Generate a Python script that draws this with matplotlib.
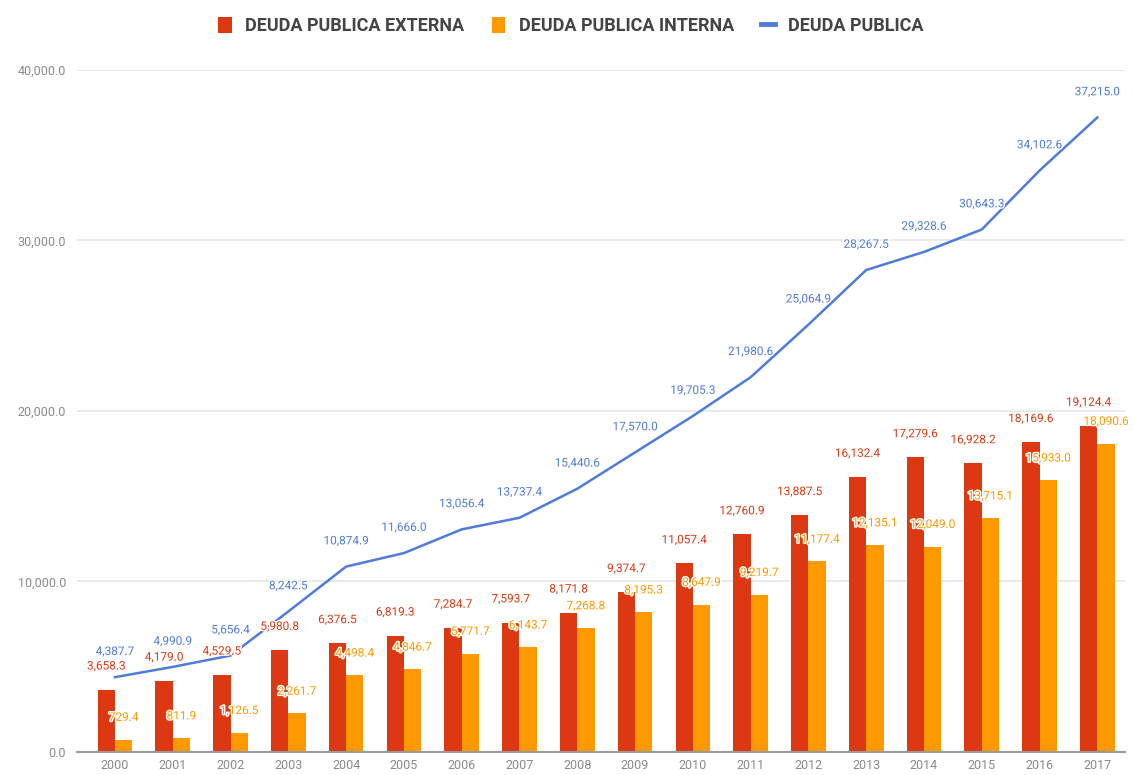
import numpy as np
import matplotlib.pyplot as plt
import matplotlib.patheffects as pe
from matplotlib.lines import Line2D
from matplotlib.ticker import FuncFormatter

years = [str(y) for y in range(2000, 2018)]

externa = [3658.3, 4179.0, 4529.5, 5980.8, 6376.5, 6819.3, 7284.7, 7593.7, 8171.8,
           9374.7, 11057.4, 12760.9, 13887.5, 16132.4, 17279.6, 16928.2, 18169.6, 19124.4]
interna = [729.4, 811.9, 1126.5, 2261.7, 4498.4, 4846.7, 5771.7, 6143.7, 7268.8,
           8195.3, 8647.9, 9219.7, 11177.4, 12135.1, 12049.0, 13715.1, 15933.0, 18090.6]
total = [4387.7, 4990.9, 5656.4, 8242.5, 10874.9, 11666.0, 13056.4, 13737.4, 15440.6,
         17570.0, 19705.3, 21980.6, 25064.9, 28267.5, 29328.6, 30643.3, 34102.6, 37215.0]

c_ext = '#dc3912'
c_int = '#ff9900'
c_tot = '#4f7bd9'

plt.rcParams['font.family'] = ['Roboto', 'DejaVu Sans']

fig = plt.figure(figsize=(11.33, 7.75), dpi=100)
ax = fig.add_axes([0.068, 0.0297, 0.925, 0.88])

x = np.arange(len(years))
w = 0.30
halo = [pe.withStroke(linewidth=2, foreground='white')]

b1 = ax.bar(x - w/2, externa, w, color=c_ext, zorder=2)
b2 = ax.bar(x + w/2, interna, w, color=c_int, zorder=2)
ax.plot(x, total, color=c_tot, lw=1.8, zorder=3)

for i in range(len(years)):
    ax.annotate(f'{externa[i]:,.1f}', (x[i] - w/2, externa[i]), xytext=(0, 17),
                textcoords='offset points', ha='center', va='center',
                fontsize=8.5, color=c_ext, path_effects=halo, zorder=4)
    ax.annotate(f'{interna[i]:,.1f}', (x[i] + w/2, interna[i]), xytext=(0, 16),
                textcoords='offset points', ha='center', va='center',
                fontsize=8.5, color=c_int, path_effects=halo, zorder=4)
    ax.annotate(f'{total[i]:,.1f}', (x[i], total[i]), xytext=(0, 18.5),
                textcoords='offset points', ha='center', va='center',
                fontsize=8.5, color=c_tot, path_effects=halo, zorder=4)

ax.set_xlim(-0.657, 17.48)
ax.set_ylim(0, 40000)
ax.set_yticks([0, 10000, 20000, 30000, 40000])
ax.yaxis.set_major_formatter(FuncFormatter(lambda v, p: f'{v:,.1f}'))
ax.set_xticks(x)
ax.set_xticklabels(years)
ax.tick_params(axis='both', length=0, labelsize=9, colors='#8a8a8a')
ax.tick_params(axis='y', pad=8)
ax.tick_params(axis='x', pad=5)
ax.grid(axis='y', color='#e6e6e6', lw=1.2, zorder=0)
ax.set_axisbelow(True)
for s in ['top', 'right', 'left']:
    ax.spines[s].set_visible(False)
ax.spines['bottom'].set_color('#9a9a9a')
ax.spines['bottom'].set_linewidth(1.5)

line_handle = Line2D([], [], color=c_tot, lw=3.5)
fig.legend([b1, b2, line_handle], ['DEUDA PUBLICA EXTERNA', 'DEUDA PUBLICA INTERNA', 'DEUDA PUBLICA'],
           loc='center', bbox_to_anchor=(0.504, 0.966), ncol=3, frameon=False,
           handlelength=0.75, handleheight=0.95, columnspacing=1.5,
           handletextpad=0.75, labelcolor='#444444', prop={'weight': 'bold', 'size': 13})

fig.savefig('out.png', dpi=100)
